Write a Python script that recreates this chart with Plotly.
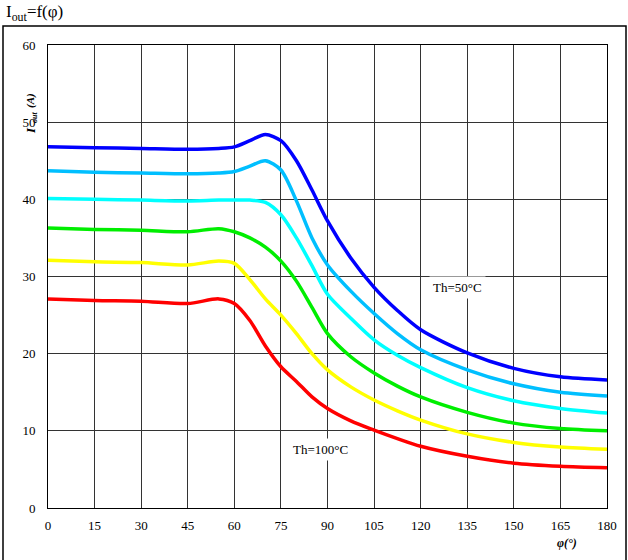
import plotly.graph_objects as go

phi = [0, 15, 30, 45, 55, 60, 65, 70, 75, 80, 85, 90, 97.5, 105, 112.5, 120, 135, 150, 165, 180]

i_blue = [46.8, 46.7, 46.6, 46.5, 46.6, 46.8, 47.6, 48.4, 47.6, 45.0, 41.2, 37.2, 32.4, 28.6, 25.6, 23.1, 20.1, 18.1, 17.0, 16.6]
i_lightblue = [43.7, 43.5, 43.4, 43.3, 43.4, 43.6, 44.3, 45.0, 43.8, 39.8, 35.0, 31.5, 28.1, 25.2, 22.6, 20.5, 17.9, 16.1, 15.0, 14.5]
i_cyan = [40.1, 40.0, 39.9, 39.8, 39.9, 39.9, 39.9, 39.6, 38.0, 35.0, 31.4, 27.7, 24.6, 21.8, 19.8, 18.2, 15.6, 13.9, 12.9, 12.3]
i_green = [36.3, 36.1, 36.0, 35.8, 36.2, 35.8, 35.0, 33.8, 32.0, 29.4, 26.0, 22.6, 19.6, 17.5, 15.8, 14.4, 12.4, 11.0, 10.3, 10.0]
i_yellow = [32.1, 31.9, 31.8, 31.5, 32.0, 31.7, 29.6, 27.1, 25.0, 22.6, 20.0, 17.9, 15.7, 14.0, 12.6, 11.4, 9.6, 8.5, 7.9, 7.6]
i_red = [27.1, 26.9, 26.8, 26.5, 27.1, 26.5, 24.3, 21.0, 18.3, 16.4, 14.4, 12.9, 11.3, 10.1, 9.0, 8.0, 6.7, 5.8, 5.4, 5.2]

series = [
    (i_blue, "#0000ff"),
    (i_lightblue, "#00bfff"),
    (i_cyan, "#00ffff"),
    (i_green, "#00ee00"),
    (i_yellow, "#ffff00"),
    (i_red, "#ff0000"),
]

x_ticks = list(range(0, 181, 15))
y_ticks = list(range(0, 61, 10))

FONT = "Liberation Serif, Times New Roman, serif"

fig = go.Figure()
for vals, col in series:
    fig.add_trace(go.Scatter(x=phi, y=vals, mode="lines",
                             line=dict(color=col, width=3.5, shape="spline", smoothing=0.8),
                             hoverinfo="skip", showlegend=False))

L, R, T, B = 48, 21, 45, 52
W, H = 628, 560
pw, ph = W - L - R, H - T - B

def px(xp):
    return (xp - L) / pw

def py(yp):
    return (H - B - yp) / ph

BI = dict(family=FONT, weight="bold", style="italic")

def rot(text, xp, yp, size):
    return dict(text=text, xref="paper", yref="paper", x=px(xp), y=py(yp),
                xanchor="center", yanchor="middle", textangle=-90, showarrow=False,
                font=dict(size=size, **BI))

fig.update_layout(
    width=W, height=H,
    margin=dict(l=L, r=R, t=T, b=B, pad=0),
    paper_bgcolor="white", plot_bgcolor="white",
    font=dict(family=FONT, size=13, color="black"),
    showlegend=False,
    xaxis=dict(range=[0, 180], tickvals=x_ticks, showgrid=True, gridcolor="#333333", gridwidth=1,
               showline=True, linecolor="black", linewidth=1, mirror=True, ticks="",
               zeroline=False, fixedrange=True, ticklabelstandoff=5,
               tickfont=dict(family=FONT, size=13)),
    yaxis=dict(range=[0, 60], tickvals=y_ticks, showgrid=True, gridcolor="#333333", gridwidth=1,
               showline=True, linecolor="black", linewidth=1, mirror=True, ticks="",
               zeroline=False, fixedrange=True, ticklabelstandoff=9,
               tickfont=dict(family=FONT, size=13)),
    shapes=[dict(type="rect", xref="paper", yref="paper",
                 x0=px(3), x1=px(626), y0=py(566), y1=py(26),
                 line=dict(color="black", width=1.5), fillcolor="rgba(0,0,0,0)", layer="below")],
    annotations=[
        dict(text="I<sub>out</sub>=f(φ)", xref="paper", yref="paper", x=px(4), y=py(13),
             xanchor="left", yanchor="middle", showarrow=False,
             font=dict(family=FONT, size=17)),
        rot("I", 30, 131, 13),
        rot("out", 34, 118, 8),
        rot("(A)", 30, 101, 11),
        dict(text="φ(°)", xref="paper", yref="paper", x=px(567), y=py(543),
             xanchor="center", yanchor="middle", showarrow=False,
             font=dict(size=12, **BI)),
        dict(text="Th=50°C", x=131.7, y=28.6, xref="x", yref="y", showarrow=False,
             bgcolor="white", font=dict(family=FONT, size=13), borderpad=3),
        dict(text="Th=100°C", x=87.6, y=7.6, xref="x", yref="y", showarrow=False,
             bgcolor="white", font=dict(family=FONT, size=13), borderpad=3),
    ],
)

fig.write_html("out.html")
